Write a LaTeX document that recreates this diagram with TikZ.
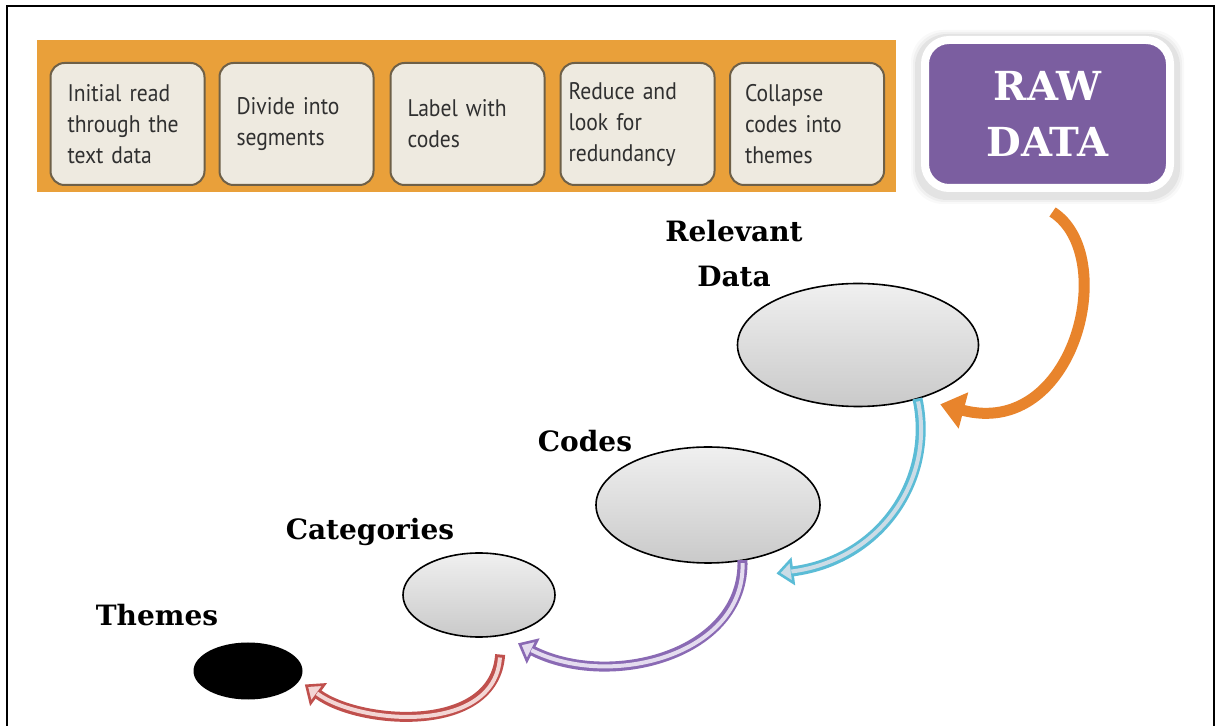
\documentclass[tikz,border=0pt]{standalone}
\usepackage{fontspec}
\newfontfamily\boxfont[FakeStretch=0.9]{PT Sans}
\newfontfamily\labfont{DejaVu Serif}
\usetikzlibrary{arrows.meta,shapes.geometric,calc}

\definecolor{bandorange}{HTML}{E9A03A}
\definecolor{stepfill}{HTML}{EEEAE0}
\definecolor{stepline}{HTML}{6E6048}
\definecolor{steptext}{HTML}{303030}
\definecolor{rawpurple}{HTML}{7B5EA0}
\definecolor{arrorange}{HTML}{E8842C}
\definecolor{cyanline}{HTML}{5BBCD6}
\definecolor{cyaninner}{HTML}{CCDCE6}
\definecolor{purpline}{HTML}{8A6AB4}
\definecolor{purpinner}{HTML}{E4DCEF}
\definecolor{redline}{HTML}{C0504D}
\definecolor{redinner}{HTML}{F3D6D5}

% two-tone (outlined) curved arrow: outline colour, inner colour, path
\newcommand\hollowarrow[3]{%
  \draw[draw=#1, line width=5pt,
        -{Triangle[length=8.5pt,width=14pt,fill=#2,line width=1.3pt]}] #3;
  \draw[draw=#2, line width=2pt, shorten <=1.5pt, shorten >=7.5pt] #3;
}

\tikzset{
  stepbox/.style={draw=stepline, line width=1pt, fill=stepfill,
    rounded corners=7pt, minimum width=77pt, minimum height=61pt,
    inner xsep=8.5pt, text width=60pt, align=left, text=steptext,
    font=\boxfont\fontsize{12}{15.5}\selectfont},
  blob/.style={ellipse, draw=black, line width=0.8pt, inner sep=0pt,
    outer sep=0pt, top color=gray!12, bottom color=gray!42},
  lab/.style={font=\labfont\bfseries\fontsize{14}{22.5}\selectfont,
    align=center, inner sep=0pt},
}

\begin{document}
\begin{tikzpicture}[x=0.5pt,y=-0.5pt]
\useasboundingbox (0,0) rectangle (1221,726);
\fill[white] (0,0) rectangle (1221,726);

% open frame (no bottom edge)
\draw[line width=1.2pt] (7,726) -- (7,6) -- (1214,6) -- (1214,726);

% process band
\fill[bandorange] (37,40) rectangle (896,192);
\node[stepbox] (s1) at (127.5,124) {Initial read\\through the\\text data};
\node[stepbox] (s2) at (296.5,124) {Divide into\\segments};
\node[stepbox] (s3) at (467.5,124) {Label with\\codes};
\node[stepbox, inner xsep=4pt, text width=69pt] (s4) at (637.5,124) {Reduce and\\look for\\redundancy};
\node[stepbox, inner xsep=7.5pt, text width=62pt] (s5) at (807,124) {Collapse\\codes into\\themes};

% soft shadow behind the raw data box
\foreach \s/\o in {6/0.025,4/0.035,2/0.05}
  \fill[black, opacity=\o, rounded corners=16pt]
    (917-\s,33-\s+3) rectangle (1178+\s,195+\s+3);
\node[fill=rawpurple, draw=white, line width=4pt, rounded corners=12pt,
      minimum width=122.5pt, minimum height=74pt, align=center,
      text=white, font=\labfont\bfseries\fontsize{20}{28}\selectfont]
      (raw) at (1047.5,114) {RAW\\DATA};

% stages
\node[blob, minimum width=120.5pt, minimum height=61.5pt] (rel) at (858,345) {};
\node[blob, minimum width=112pt, minimum height=58pt] (codes) at (708,505) {};
\node[blob, minimum width=76pt, minimum height=42pt] (cat) at (479,595) {};
\node[ellipse, fill=black, inner sep=0pt, outer sep=0pt,
      minimum width=54.5pt, minimum height=28.5pt] (themes) at (248,671) {};

% stage labels
\node[lab] (lrel) at (734,254) {Relevant\\Data};
\node[lab, anchor=base] (lcodes) at (585,452) {Codes};
\node[lab, anchor=base] (lcat) at (370,540) {Categories};
\node[lab, anchor=base] (lthemes) at (157,626) {Themes};

% raw data -> relevant data
\draw[arrorange, line width=5.5pt, -{Triangle[length=12pt,width=18pt]}]
  ($(raw.south)+(5,20)$) .. controls (1120,255) and (1075,440) .. ($(rel.-36)+(13,9)$);

% relevant -> codes -> categories -> themes
\hollowarrow{cyanline}{cyaninner}{(rel.-42) .. controls (935,480) and (880,560) .. ($(codes.-45)+(17,17)$)}
\hollowarrow{purpline}{purpinner}{(codes.-58) .. controls (745,655) and (610,690) .. ($(cat.-51)+(8,10)$)}
\hollowarrow{redline}{redinner}{($(cat.-75)+(10,18)$) .. controls (495,735) and (360,725) .. ($(themes.-13)+(7,2)$)}
\end{tikzpicture}
\end{document}
